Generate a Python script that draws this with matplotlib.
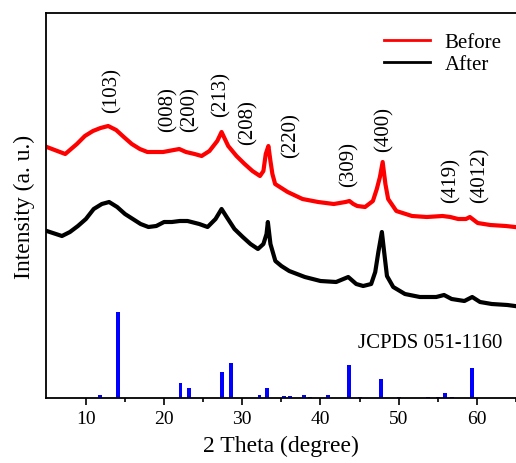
import matplotlib

matplotlib.use("Agg")
import matplotlib.pyplot as plt

plt.rcParams["font.family"] = ["Liberation Serif", "DejaVu Serif"]

# XRD patterns (2 theta in degree, intensity in arbitrary units)
before_2theta = [5.0, 7.36, 8.85, 9.87, 10.9, 11.87, 12.85, 13.87, 14.85, 15.87,
                 16.9, 17.87, 19.87, 21.94, 22.8, 23.9, 24.8, 25.8, 26.8, 27.35,
                 28.2, 29.26, 30.3, 31.3, 32.26, 32.7, 33.0, 33.34, 33.6, 33.85,
                 34.2, 35.8, 37.7, 39.7, 41.7, 43.2, 43.7, 44.2, 44.7, 45.7,
                 46.7, 47.2, 47.6, 47.95, 48.3, 48.65, 49.7, 51.7, 53.6, 55.6,
                 56.6, 57.6, 58.6, 59.1, 60.1, 61.7, 63.7, 64.85]
before_int = [251, 244, 254, 262, 267, 270, 272, 268, 261, 254,
              249, 246, 246, 249, 246, 244, 242, 247, 257, 266,
              252, 242, 234, 227, 222, 227, 244, 252, 237, 224,
              214, 206, 199, 196, 194, 196, 197, 194, 192, 191,
              197, 209, 221, 236, 214, 199, 187, 182, 181, 182,
              181, 179, 179, 181, 175, 173, 172, 171]

after_2theta = [5.0, 6.94, 7.96, 8.98, 10.0, 11.0, 12.04, 12.97, 14.0, 15.0,
                16.0, 17.0, 18.0, 19.0, 20.0, 21.0, 22.0, 23.0, 24.5, 25.56,
                26.58, 27.35, 28.0, 29.0, 30.06, 31.05, 32.0, 32.7, 33.1, 33.27,
                33.6, 34.23, 35.0, 36.0, 38.0, 40.0, 42.0, 43.55, 44.57, 45.46,
                46.48, 47.0, 47.4, 47.85, 48.14, 48.5, 49.3, 50.8, 52.7, 54.8,
                55.8, 56.77, 58.4, 59.4, 60.4, 61.9, 63.9, 64.85]
after_int = [167, 162, 166, 172, 179, 189, 194, 196, 191, 184,
             179, 174, 171, 172, 176, 176, 177, 177, 174, 171,
             179, 189, 181, 169, 161, 154, 149, 154, 164, 176,
             154, 137, 132, 127, 121, 117, 116, 121, 114, 112,
             114, 126, 146, 166, 146, 122, 111, 104, 101, 101,
             103, 99, 97, 101, 96, 94, 93, 92]

# JCPDS 051-1160 reference lines
ref_2theta = [11.8, 14.1, 22.1, 23.2, 27.35, 28.6, 32.2, 33.2, 35.3, 36.1,
              37.9, 38.7, 41.0, 43.6, 45.1, 47.7, 50.0, 53.8, 55.0, 55.9,
              56.8, 59.4]
ref_int = [3, 86, 15, 10, 26, 35, 3, 10, 2, 2.5,
           3, 1, 3, 33, 1, 19, 1.5, 1, 1, 5,
           1, 30]

# (hkl) labels: position and bottom of the rotated text
hkl_labels = ["(103)", "(008)", "(200)", "(213)", "(208)", "(220)", "(309)",
              "(400)", "(419)", "(4012)"]
hkl_2theta = [13.3, 20.5, 23.3, 27.3, 30.7, 36.2, 43.7, 48.1, 56.7, 60.4]
hkl_y = [286, 267, 267, 282, 254, 241, 212, 247, 196, 196]

fig = plt.figure(figsize=(5.16, 4.64), dpi=100)
ax = fig.add_axes([46 / 516, 65 / 464, 470 / 516, 385 / 464])

ax.plot(before_2theta, before_int, color="#ff0000", lw=3.0,
        solid_joinstyle="round", label="Before")
ax.plot(after_2theta, after_int, color="#000000", lw=3.0,
        solid_joinstyle="round", label="After")

ax.bar(ref_2theta, ref_int, width=0.5, color="#0000ff", bottom=0)

for lab, xx, yy in zip(hkl_labels, hkl_2theta, hkl_y):
    ax.text(xx, yy, lab, rotation=90, ha="center", va="bottom", fontsize=15)

ax.text(63.3, 56, "JCPDS 051-1160", ha="right", va="center", fontsize=15)

ax.set_xlim(4.9, 65)
ax.set_ylim(0, 385)
ax.set_xticks([10, 20, 30, 40, 50, 60])
ax.set_xticks([15, 25, 35, 45, 55, 65], minor=True)
ax.set_yticks([])
ax.tick_params(axis="x", which="major", direction="out", length=5, width=1.2,
               labelsize=14, pad=4)
ax.tick_params(axis="x", which="minor", direction="out", length=3, width=1.2)
for s in ax.spines.values():
    s.set_linewidth(1.3)
ax.spines["right"].set_visible(False)

ax.set_xlabel("2 Theta (degree)", fontsize=17, labelpad=5)
ax.set_ylabel("Intensity (a. u.)", fontsize=17, labelpad=8)

leg = ax.legend(loc="upper right", bbox_to_anchor=(1.0, 1 - 5 / 385),
                frameon=False, fontsize=15, handlelength=2.2,
                handletextpad=0.7, labelspacing=0.1, borderaxespad=0.3)
for line in leg.get_lines():
    line.set_linewidth(2.0)

fig.savefig("out.png", dpi=100)
